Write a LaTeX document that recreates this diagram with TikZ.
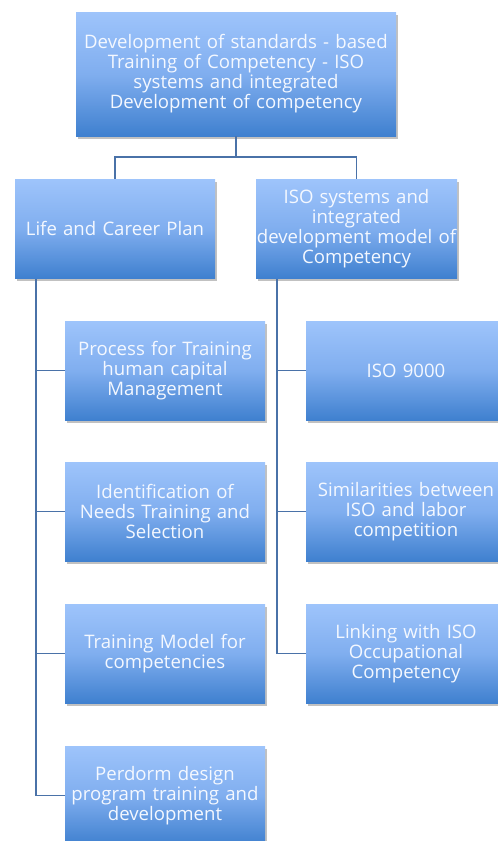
\documentclass[tikz,border=0pt]{standalone}
\usepackage{fontspec}
\setmainfont{Open Sans}
\usetikzlibrary{shadows}
\definecolor{boxtop}{HTML}{9EC4FB}
\definecolor{boxmid}{HTML}{80AEEF}
\definecolor{boxbot}{HTML}{3F80CF}
\definecolor{linkc}{HTML}{4A72A8}
\definecolor{txt}{HTML}{F4F8FF}
\tikzset{
  box/.style={rectangle, draw=none, top color=boxtop, bottom color=boxbot, middle color=boxmid,
    minimum width=200pt, minimum height=99pt, text width=200pt, align=center,
    text=txt, font=\fontsize{18.6}{20}\selectfont, inner sep=0pt,
    drop shadow={shadow xshift=2pt, shadow yshift=-3pt, opacity=0.35, fill=black!70}},
  link/.style={draw=linkc, line width=1.8pt}
}
\begin{document}
\begin{tikzpicture}[x=1pt,y=-1pt]
\useasboundingbox (0,0) rectangle (498,841);
\node[box, minimum width=320pt, minimum height=124pt, text width=318pt] (top) at (236,74) {Development of standards - based\\Training of Competency - ISO\\systems and integrated\\Development of competency};
\node[box] (L1) at (115,228.5) {Life and Career Plan};
\node[box, minimum width=201pt] (R1) at (356.5,228.5) {ISO systems and\\integrated\\development model of\\Competency};
\node[box] (L2) at (165,370.5) {Process for Training\\human capital\\Management};
\node[box] (L3) at (165,511.5) {Identification of\\Needs Training and\\Selection};
\node[box] (L4) at (165,653.5) {Training Model for\\competencies};
\node[box] (L5) at (165,795.5) {Perdorm design\\program training and\\development};
\node[box] (R2) at (406,370.5) {ISO 9000};
\node[box] (R3) at (406,511.5) {Similarities between\\ISO and labor\\competition};
\node[box] (R4) at (406,653.5) {Linking with ISO\\Occupational\\Competency};
\coordinate (mid) at (236,157);
\coordinate (ls) at (36,279);
\coordinate (rs) at (277,279);
\path[link] (top.south) -- (mid);
\path[link] (L1.north) |- (mid) -| (R1.north);
\path[link] (ls) |- (L5.west);
\path[link] (ls |- L2.west) -- (L2.west);
\path[link] (ls |- L3.west) -- (L3.west);
\path[link] (ls |- L4.west) -- (L4.west);
\path[link] (rs) |- (R4.west);
\path[link] (rs |- R2.west) -- (R2.west);
\path[link] (rs |- R3.west) -- (R3.west);
\end{tikzpicture}
\end{document}
